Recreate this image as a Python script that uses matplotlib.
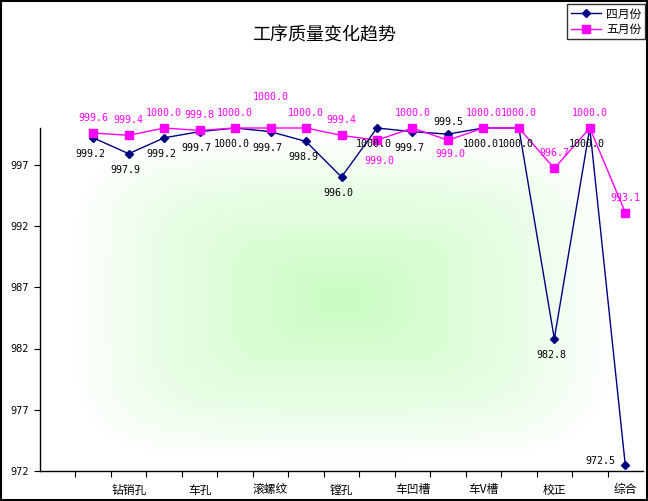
import numpy as np
import matplotlib
matplotlib.use("Agg")
import matplotlib.pyplot as plt
from matplotlib.patches import Rectangle

plt.rcParams['font.family'] = ['Noto Sans CJK SC', 'DejaVu Sans']

# data
shown_labels = ['钻销孔', '车孔', '滚螺纹', '镗孔', '车凹槽', '车V槽', '校正', '综合']
april = [999.2, 997.9, 999.2, 999.7, 1000.0, 999.7, 998.9, 996.0,
         1000.0, 999.7, 999.5, 1000.0, 1000.0, 982.8, 1000.0, 972.5]
may = [999.6, 999.4, 1000.0, 999.8, 1000.0, 1000.0, 1000.0, 999.4,
       999.0, 1000.0, 999.0, 1000.0, 1000.0, 996.7, 1000.0, 993.1]
series_names = ['四月份', '五月份']

# label placement (pixels)
apr_off = [(-3, -16)] * 16
apr_off[10] = (0, 12)
apr_off[15] = (-25, 4)
may_off = [(0, 15)] * 16
may_off[5] = (0, 31)
may_off[8] = (2, -21)
may_off[10] = (2, -14)

x = np.arange(1, len(april) + 1)

fig = plt.figure(figsize=(6.48, 5.01), dpi=100)
ax = fig.add_axes([40 / 648, 30 / 501, 603 / 648, 343 / 501])

# green centre-out fill of the plot area (rounded rectangle bands)
gx, gy = np.meshgrid(np.linspace(-1, 1, 400), np.linspace(-1, 1, 400))
p = 5
d = (np.abs(gx / 0.88) ** p + np.abs(gy / 0.92) ** p) ** (1 / p)
w = np.clip(1 - d, 0, 1) ** 0.8
c0 = np.array([1.0, 1.0, 1.0])
c1 = np.array([0.79, 0.99, 0.76])
img = c0 + (c1 - c0) * w[..., None]
ax.imshow(img, extent=[-0.5, 16.5, 972, 1000], aspect='auto', zorder=0,
          interpolation='bilinear')

ax.plot(x, april, color='#000080', marker='D', markersize=4.5, lw=1,
        label=series_names[0], zorder=3, clip_on=False)
ax.plot(x, may, color='#ff00ff', marker='s', markersize=5.5, lw=1,
        label=series_names[1], zorder=3, clip_on=False)

for xi, v, o in zip(x, april, apr_off):
    ax.annotate(f'{v:.1f}', (xi, v), xytext=o, textcoords='offset pixels',
                ha='center', va='center', fontsize=7.2,
                family='DejaVu Sans Mono', color='black', zorder=4)
for xi, v, o in zip(x, may, may_off):
    ax.annotate(f'{v:.1f}', (xi, v), xytext=o, textcoords='offset pixels',
                ha='center', va='center', fontsize=7.2,
                family='DejaVu Sans Mono', color='#ff00ff', zorder=4,
                annotation_clip=False)

ax.set_xlim(-0.5, 16.5)
ax.set_ylim(972, 1000)
ax.set_yticks(np.arange(972, 1000, 5))
ax.set_yticklabels([str(t) for t in range(972, 1000, 5)], fontsize=7,
                   family='DejaVu Sans')
ax.set_xticks(np.arange(2, 17, 2))
ax.set_xticklabels(shown_labels, fontsize=8.5)
ax.set_xticks(np.arange(0.5, 16.5, 1), minor=True)
ax.tick_params(axis='x', which='major', length=0, pad=9)
ax.tick_params(axis='x', which='minor', length=4, direction='out', width=0.8)
ax.tick_params(axis='y', length=4, width=0.8, pad=4)
for s in ['top', 'right']:
    ax.spines[s].set_visible(False)
for s in ['left', 'bottom']:
    ax.spines[s].set_linewidth(1)

fig.text(324 / 648, 1 - 35 / 501, '工序质量变化趋势', ha='center', va='center',
         fontsize=13)

leg = fig.legend(loc='upper right', bbox_to_anchor=(645 / 648, 1 - 4 / 501),
                 fontsize=8.5, frameon=True, fancybox=False, handlelength=2.6,
                 borderpad=0.3, labelspacing=0.2, handletextpad=0.4,
                 borderaxespad=0)
leg.get_frame().set_edgecolor('black')
leg.get_frame().set_linewidth(1)

fig.patches.append(Rectangle((0.001, 0.001), 0.997, 0.997, transform=fig.transFigure,
                             fill=False, edgecolor='black', lw=1.5))

fig.savefig('out.png', dpi=100)
